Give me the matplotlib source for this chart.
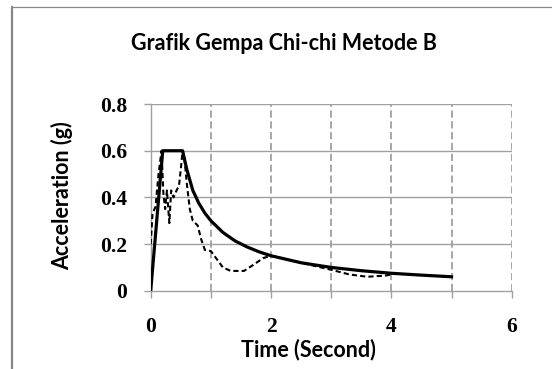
import matplotlib
matplotlib.use("Agg")
import matplotlib.pyplot as plt
from matplotlib.lines import Line2D

# design spectrum (solid)
t_design = [0.0, 0.2, 0.53, 0.6, 0.7, 0.8, 0.9, 1.0, 1.2, 1.4, 1.6, 1.8, 2.0,
            2.5, 3.0, 3.5, 4.0, 4.5, 5.0]
a_design = [0.0, 0.6, 0.6, 0.52, 0.43, 0.375, 0.333, 0.3, 0.25, 0.214, 0.188,
            0.167, 0.15, 0.12, 0.1, 0.086, 0.075, 0.067, 0.06]

# Chi-chi spectrum (dashed)
t_chichi = [0.0, 0.03, 0.08, 0.13, 0.18, 0.21, 0.24, 0.27, 0.31, 0.34, 0.38,
            0.43, 0.47, 0.5, 0.53, 0.56, 0.6, 0.65, 0.7, 0.78, 0.84, 0.9,
            1.0, 1.1, 1.2, 1.33, 1.55, 1.7, 1.87, 2.0, 2.5, 3.0, 3.3, 3.6,
            3.9, 4.0]
a_chichi = [0.2, 0.33, 0.36, 0.5, 0.6, 0.42, 0.35, 0.43, 0.29, 0.43, 0.4,
            0.43, 0.45, 0.52, 0.6, 0.57, 0.46, 0.35, 0.3, 0.28, 0.22, 0.175,
            0.17, 0.135, 0.1, 0.085, 0.085, 0.11, 0.14, 0.15, 0.12, 0.09,
            0.07, 0.06, 0.065, 0.07]

x_ticks = [0, 1, 2, 3, 4, 5, 6]
x_labels = ["0", "", "2", "", "4", "", "6"]
y_ticks = [0, 0.2, 0.4, 0.6, 0.8]
y_labels = ["0", "0.2", "0.4", "0.6", "0.8"]

grid_c = "#a0a0a0"
fs = 15.5

fig = plt.figure(figsize=(5.52, 3.69), dpi=100)
ax = fig.add_axes([0.273, 0.212, 0.654, 0.506])

for x in x_ticks[1:]:
    ax.axvline(x, color=grid_c, lw=1.3, ls=(0, (4, 2)), zorder=1)
for y in y_ticks[1:]:
    ax.axhline(y, color=grid_c, lw=1.0, zorder=1)

ax.plot(t_chichi, a_chichi, color="black", lw=1.5, ls=(0, (2.5, 1.5)), zorder=3)
ax.plot(t_design, a_design, color="black", lw=2.3, zorder=4)

ax.set_xlim(0, 6)
ax.set_ylim(0, 0.8)
ax.set_xticks(x_ticks)
ax.set_xticklabels(x_labels)
ax.set_yticks(y_ticks)
ax.set_yticklabels(y_labels)

for s in ["top", "right"]:
    ax.spines[s].set_visible(False)
for s in ["left", "bottom"]:
    ax.spines[s].set_color(grid_c)
    ax.spines[s].set_linewidth(1.0)

ax.tick_params(axis="both", colors=grid_c, length=5, width=1.0,
               labelcolor="black", labelsize=fs)
ax.tick_params(axis="x", pad=14)
ax.tick_params(axis="y", pad=12)
for lab in ax.get_xticklabels() + ax.get_yticklabels():
    lab.set_fontfamily("Liberation Serif")
    lab.set_fontweight("bold")

ax.set_xlabel("Time (Second)", fontsize=fs, fontweight="bold",
              fontfamily="Lato")
ax.xaxis.set_label_coords(0.436, -0.255)

fig.text(0.112, 0.47, "Acceleration (g)", rotation=90, ha="center",
         va="center", fontsize=fs, fontweight="bold", fontfamily="Lato")
fig.text(0.514, 0.883, "Grafik Gempa Chi-chi Metode B", ha="center",
         va="center", fontsize=fs, fontweight="bold", fontfamily="Lato")

# outer chart frame (left and top edges visible)
fig.add_artist(Line2D([0.022, 0.022], [0, 0.982], color="#888888", lw=1.6,
                      transform=fig.transFigure))
fig.add_artist(Line2D([0.022, 1.0], [0.982, 0.982], color="#888888", lw=0.9,
                      transform=fig.transFigure))

fig.savefig("out.png", dpi=100)
